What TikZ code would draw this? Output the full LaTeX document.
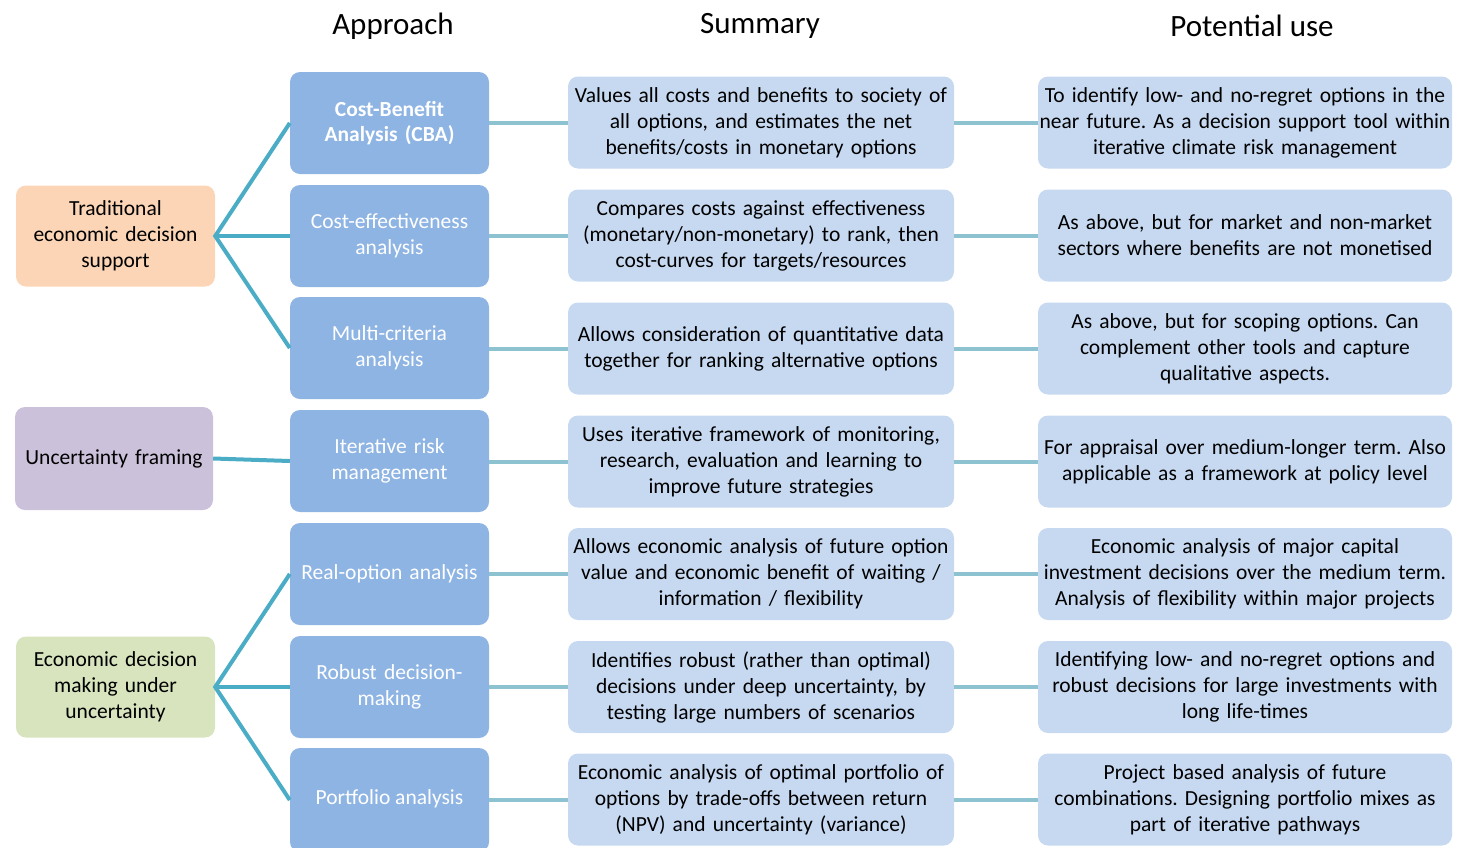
\documentclass[tikz,border=0pt]{standalone}
\usepackage{fontspec}
\setmainfont{Carlito}
\frenchspacing
\usetikzlibrary{positioning}
\definecolor{apfill}{HTML}{8EB4E3}
\definecolor{sumfill}{HTML}{C6D9F1}
\definecolor{tradfill}{HTML}{FBD5B5}
\definecolor{uncfill}{HTML}{CCC1DA}
\definecolor{ecofill}{HTML}{D7E4BD}
\definecolor{fanline}{HTML}{4BACC6}
\definecolor{hline}{HTML}{8DC2D1}
\tikzset{
  boxbase/.style={rounded corners=10pt, inner sep=0pt, align=center, font=\fontsize{21.5}{26}\selectfont},
  apbox/.style={boxbase, fill=apfill, text=white, minimum width=199pt, minimum height=102pt, text width=195pt},
  sumbox/.style={boxbase, fill=sumfill, text=black, minimum width=386pt, minimum height=92pt, text width=384pt},
  usebox/.style={boxbase, fill=sumfill, text=black, minimum width=414pt, minimum height=92pt, text width=412pt},
  leftbox/.style={boxbase, text=black, minimum width=199pt, minimum height=101pt, text width=195pt},
  fan/.style={draw=fanline, line width=4pt},
  hconn/.style={draw=hline, line width=4pt},
  header/.style={font=\fontsize{31}{36}\selectfont, text=black, inner sep=0pt}
}
\begin{document}
\begin{tikzpicture}[x=1pt,y=-1pt]
\useasboundingbox (0,0) rectangle (1465,847);
% headers
\node[header] (h1) at (393,26) {Approach};
\node[header] (h2) at (760,26) {Summary};
\node[header] (h3) at (1252,26) {Potential use};
% left boxes
\node[leftbox, fill=tradfill] (trad) at (115.5,236) {Traditional\\economic decision\\support};
\node[leftbox, fill=uncfill, minimum width=198pt, minimum height=103pt] (unc) at (114,458.5) {Uncertainty framing};
\node[leftbox, fill=ecofill] (eco) at (115.5,687) {Economic decision\\making under\\uncertainty};
% approach boxes
\node[apbox, font=\fontsize{21.5}{25}\selectfont\bfseries] (a1) at (389.5,123) {Cost-Benefit\\Analysis (CBA)};
\node[apbox] (a2) at (389.5,236) {Cost-effectiveness\\analysis};
\node[apbox] (a3) at (389.5,348) {Multi-criteria\\analysis};
\node[apbox] (a4) at (389.5,461) {Iterative risk\\management};
\node[apbox] (a5) at (389.5,574) {Real-option analysis};
\node[apbox] (a6) at (389.5,687) {Robust decision-\\making};
\node[apbox, minimum height=104pt] (a7) at (389.5,800) {};
\node[font=\fontsize{21.5}{26}\selectfont, text=white] (a7t) at (389.5,799) {Portfolio analysis};
% summary boxes
\node[sumbox] (s1) at (761,122.5) {Values all costs and benefits to society of\\all options, and estimates the net\\benefits/costs in monetary options};
\node[sumbox] (s2) at (761,235.5) {Compares costs against effectiveness\\(monetary/non-monetary) to rank, then\\cost-curves for targets/resources};
\node[sumbox] (s3) at (761,348.5) {Allows consideration of quantitative data\\together for ranking alternative options};
\node[sumbox] (s4) at (761,461.5) {Uses iterative framework of monitoring,\\research, evaluation and learning to\\improve future strategies};
\node[sumbox] (s5) at (761,574) {Allows economic analysis of future option\\value and economic benefit of waiting /\\information / flexibility};
\node[sumbox] (s6) at (761,687) {Identifies robust (rather than optimal)\\decisions under deep uncertainty, by\\testing large numbers of scenarios};
\node[sumbox] (s7) at (761,799.5) {Economic analysis of optimal portfolio of\\options by trade-offs between return\\(NPV) and uncertainty (variance)};
% potential use boxes
\node[usebox] (p1) at (1245,122.5) {To identify low- and no-regret options in the\\near future. As a decision support tool within\\iterative climate risk management};
\node[usebox] (p2) at (1245,235.5) {As above, but for market and non-market\\sectors where benefits are not monetised};
\node[usebox] (p3) at (1245,348.5) {As above, but for scoping options. Can\\complement other tools and capture\\qualitative aspects.};
\node[usebox] (p4) at (1245,461.5) {For appraisal over medium-longer term. Also\\applicable as a framework at policy level};
\node[usebox] (p5) at (1245,574) {Economic analysis of major capital\\investment decisions over the medium term.\\Analysis of flexibility within major projects};
\node[usebox] (p6) at (1245,687) {Identifying low- and no-regret options and\\robust decisions for large investments with\\long life-times};
\node[usebox] (p7) at (1245,799.5) {Project based analysis of future\\combinations. Designing portfolio mixes as\\part of iterative pathways};
% fan connectors
\draw[fan] (a1.west) -- (trad.east) -- (a3.west);
\draw[fan] (trad.east) -- (a2.west);
\draw[fan] (unc.east) -- (a4.west);
\draw[fan] (a5.west) -- (eco.east) -- (a7.west);
\draw[fan] (eco.east) -- (a6.west);
% horizontal connectors
\foreach \i in {1,...,7} {
  \draw[hconn] (a\i.east |- s\i.west) -- (s\i.west);
  \draw[hconn] (s\i.east) -- (p\i.west);
}
\end{tikzpicture}
\end{document}
